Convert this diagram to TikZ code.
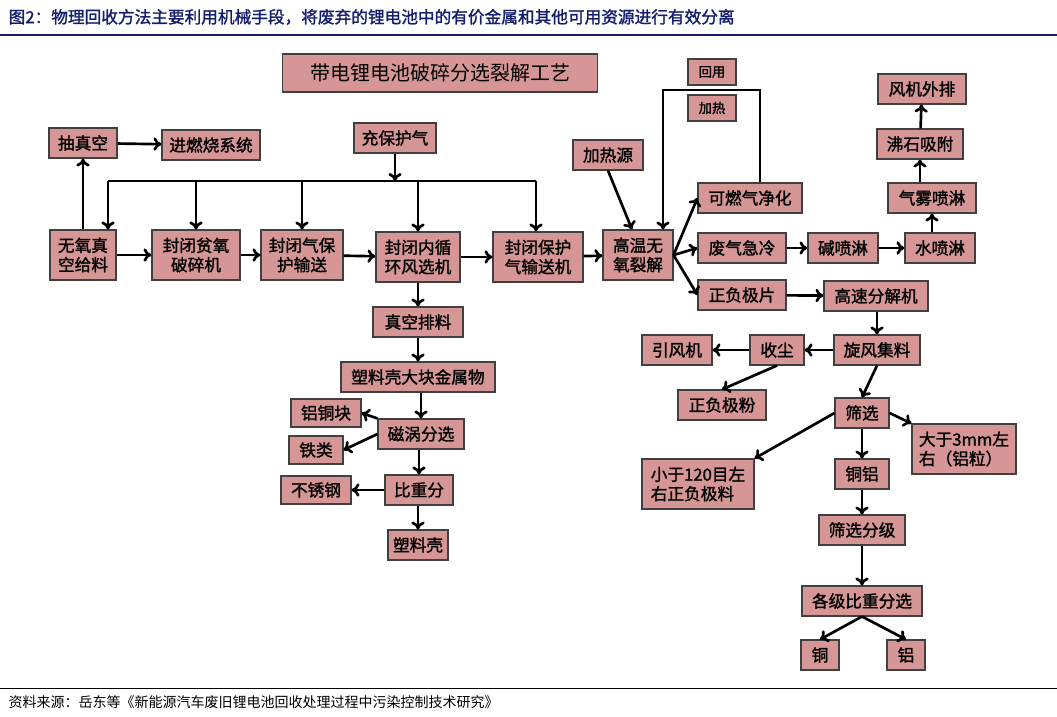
\documentclass[tikz,border=0pt]{standalone}
\usepackage{fontspec}
\newfontfamily\cjk{Noto Sans CJK SC}
\newfontfamily\cjkb{Noto Sans CJK SC}[FakeBold=1.5]
\usetikzlibrary{arrows.meta}
\definecolor{boxpink}{RGB}{215,150,150}
\definecolor{headblue}{RGB}{20,30,110}
\tikzset{
  box/.style={draw=black!75, line width=.8pt, fill=boxpink, inner sep=0pt,
    align=center, font=\cjkb\fontsize{12.5}{14.5}\selectfont},
  sz/.style 2 args={minimum width=#1*0.75pt, minimum height=#2*0.75pt},
  flow/.style={-{To[length=6pt,width=10pt]}, line width=2pt},
  line/.style={line width=2pt}
}
\begin{document}
\begin{tikzpicture}[x=0.75pt,y=-0.75pt]
   \useasboundingbox (0,0) rectangle (1057,717);

   % heading and source
   \node[anchor=west, font=\cjkb\fontsize{12.5}{14}\selectfont, text=headblue] (head) at (4,17)
      {图2：物理回收方法主要利用机械手段，将废弃的锂电池中的有价金属和其他可用资源进行有效分离};
   \draw[headblue, line width=1pt] (0,35) -- (1057,35);
   \draw[black, line width=.6pt] (0,688) -- (1057,688);
   \node[anchor=west, font=\cjk\fontsize{10.5}{12}\selectfont] (src) at (4,702)
      {资料来源：岳东等《新能源汽车废旧锂电池回收处理过程中污染控制技术研究》};

   % title
   \node[box, sz={315}{38}, font=\cjk\fontsize{15}{17}\selectfont] (title) at (440,73) {带电锂电池破碎分选裂解工艺};

   % main line
   \node[box, sz={68}{30}] (vac) at (83,143) {抽真空};
   \node[box, sz={98}{30}] (burn) at (211,145) {进燃烧系统};
   \node[box, sz={82}{30}] (gas) at (395,138) {充保护气};
   \node[box, sz={66}{50}] (feed) at (83,255) {无氧真\\空给料};
   \node[box, sz={88}{50}] (crush) at (196,255) {封闭贫氧\\破碎机};
   \node[box, sz={82}{50}] (conv) at (302,255) {封闭气保\\护输送};
   \node[box, sz={84}{50}] (wind) at (418,257) {封闭内循\\环风选机};
   \node[box, sz={90}{50}] (conv2) at (538,257) {封闭保护\\气输送机};
   \node[box, sz={70}{50}] (pyro) at (638,255) {高温无\\氧裂解};
   \node[box, sz={70}{30}] (heat) at (608,155) {加热源};
   \node[box, sz={48}{26}, font=\cjkb\fontsize{10}{12}\selectfont] (reuse) at (712,72) {回用};
   \node[box, sz={48}{26}, font=\cjkb\fontsize{10}{12}\selectfont] (warm) at (712,108) {加热};

   % gas branch
   \node[box, sz={104}{30}] (clean) at (750,198) {可燃气净化};
   \node[box, sz={88}{30}] (quench) at (742,248) {废气急冷};
   \node[box, sz={70}{30}] (alkali) at (843,248) {碱喷淋};
   \node[box, sz={70}{30}] (water) at (940,248) {水喷淋};
   \node[box, sz={88}{30}] (mist) at (932,198) {气雾喷淋};
   \node[box, sz={86}{30}] (zeo) at (920,144) {沸石吸附};
   \node[box, sz={88}{30}] (fan) at (922,89) {风机外排};

   % electrode branch
   \node[box, sz={88}{30}] (sheet) at (742,295) {正负极片};
   \node[box, sz={104}{30}] (split) at (876,296) {高速分解机};
   \node[box, sz={86}{30}] (cyc) at (877,350) {旋风集料};
   \node[box, sz={54}{30}] (dust) at (777,350) {收尘};
   \node[box, sz={70}{30}] (ifan) at (677,350) {引风机};
   \node[box, sz={88}{30}] (powder) at (722,405) {正负极粉};
   \node[box, sz={54}{30}] (sieve) at (862,413) {筛选};
   \node[box, sz={104}{50}, align=left] (big) at (964,449) {大于3mm左\\右（铝粒）};
   \node[box, sz={112}{50}, align=left] (small) at (698,484) {小于120目左\\右正负极料};
   \node[box, sz={54}{30}] (cual) at (862,474) {铜铝};
   \node[box, sz={86}{30}] (grade) at (862,530) {筛选分级};
   \node[box, sz={120}{30}] (dens) at (862,601) {各级比重分选};
   \node[box, sz={38}{30}] (cu) at (820,655) {铜};
   \node[box, sz={38}{30}] (al) at (906,655) {铝};

   % shell branch
   \node[box, sz={90}{30}] (dis) at (418,322) {真空排料};
   \node[box, sz={154}{30}] (shellm) at (418,377) {塑料壳大块金属物};
   \node[box, sz={70}{28}] (alcu) at (326,413) {铝铜块};
   \node[box, sz={86}{30}] (mag) at (421,434) {磁涡分选};
   \node[box, sz={54}{28}] (fe) at (316,450) {铁类};
   \node[box, sz={68}{30}] (grav) at (419,490) {比重分};
   \node[box, sz={70}{28}] (ss) at (316,490) {不锈钢};
   \node[box, sz={60}{30}] (shell) at (418,545) {塑料壳};

   % protective gas header
   \coordinate (hub) at (395,181);
   \draw[flow] (gas) -- (hub);
   \draw[line] (108,181) -- (536,181);
   \foreach \n/\x in {feed/108, crush/196, conv/302, wind/418, conv2/536}
   \draw[flow] (\x,181) -- (\n.north -| \x,0);

   \draw[flow] (feed.north -| vac) -- (vac);
   \draw[flow] (vac) -- (burn);
   \draw[flow] (feed) -- (crush);
   \draw[flow] (crush) -- (conv);
   \draw[flow] (conv) -- (wind);
   \draw[flow] (wind) -- (conv2);
   \draw[flow] (conv2) -- (pyro);
   \draw[flow] (heat.south) -- (pyro.north -| 632,0);

   % reuse loop
   \draw[flow] (clean.north -| 760,0) |- (663,90) -- (pyro.north -| 663,0);

   \draw[flow] (pyro.east) -- (clean.west);
   \draw[flow] (pyro.east) -- (quench.west);
   \draw[flow] (pyro.east) -- (sheet.west);
   \draw[flow] (quench) -- (alkali);
   \draw[flow] (alkali) -- (water);
   \draw[flow] (water.north -| mist) -- (mist);
   \draw[flow] (mist.north -| zeo) -- (zeo);
   \draw[flow] (zeo) -- (fan);

   \draw[flow] (sheet) -- (split);
   \draw[flow] (split.south -| cyc) -- (cyc);
   \draw[flow] (cyc) -- (dust);
   \draw[flow] (dust) -- (ifan);
   \draw[flow] (dust.south) -- (powder.north);
   \draw[flow] (cyc.south) -- (sieve.north);
   \draw[flow] (sieve.west) -- (small.north east);
   \draw[flow] (sieve.east) -- (big.north west);
   \draw[flow] (sieve) -- (cual);
   \draw[flow] (cual) -- (grade);
   \draw[flow] (grade) -- (dens);
   \draw[flow] (dens.south) -- (cu.north);
   \draw[flow] (dens.south) -- (al.north);

   \draw[flow] (wind.south) -- (dis);
   \draw[flow] (dis) -- (shellm);
   \draw[flow] (shellm.south -| mag) -- (mag);
   \draw[flow] (mag.north west) -- (alcu.east);
   \draw[flow] (mag.west) -- (fe.east);
   \draw[flow] (mag.south -| grav) -- (grav);
   \draw[flow] (grav) -- (ss);
   \draw[flow] (grav.south -| shell) -- (shell);
\end{tikzpicture}
\end{document}
